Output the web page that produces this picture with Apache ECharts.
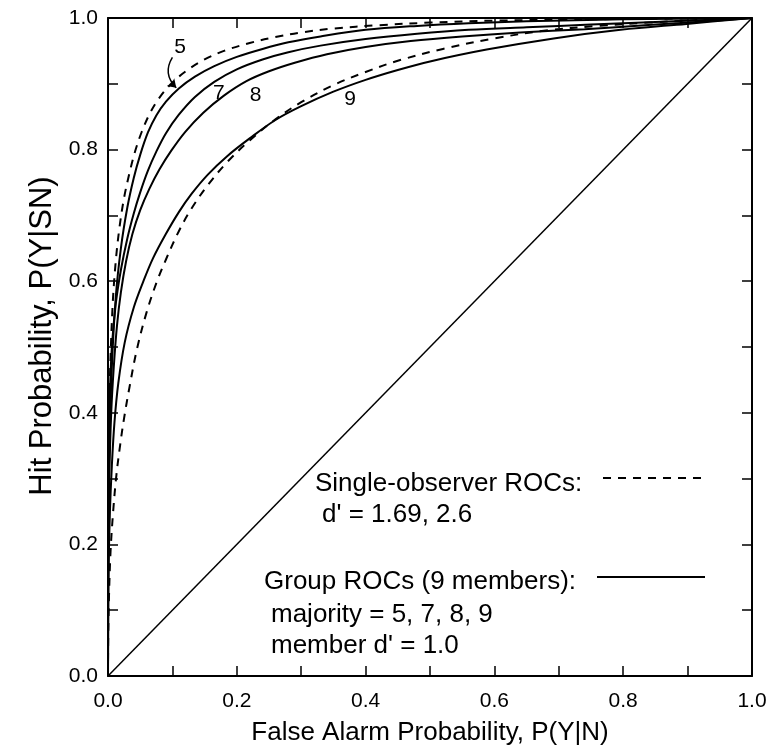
<!DOCTYPE html>
<html>
<head>
<meta charset="utf-8">
<script src="https://cdn.jsdelivr.net/npm/echarts@6/dist/echarts.min.js"></script>
<style>
  html, body { margin: 0; padding: 0; background: #fff; }
  #chart { width: 778px; height: 751px; }
</style>
</head>
<body>
<div id="chart"></div>
<script>
// ROC curves: [false alarm probability, hit probability]

// Single observers, d' = 2.6 and d' = 1.69 (dashed)
const singleObserverD26 = [
  [0, 0], [0.0003, 0.20], [0.001, 0.32], [0.003, 0.45], [0.007, 0.56], [0.012, 0.63],
  [0.018, 0.683], [0.025, 0.727], [0.033, 0.763], [0.042, 0.797], [0.052, 0.826],
  [0.065, 0.855], [0.080, 0.879], [0.100, 0.902], [0.125, 0.922], [0.150, 0.937],
  [0.180, 0.950], [0.220, 0.962], [0.260, 0.971], [0.300, 0.978], [0.350, 0.984],
  [0.420, 0.989], [0.500, 0.993], [0.600, 0.996], [0.750, 0.998], [1, 1]
];
const singleObserverD169 = [
  [0, 0], [0.0003, 0.06], [0.0015, 0.12], [0.004, 0.19], [0.008, 0.25], [0.013, 0.305],
  [0.019, 0.352], [0.025, 0.392], [0.033, 0.437], [0.045, 0.497], [0.060, 0.553],
  [0.075, 0.597], [0.090, 0.633], [0.110, 0.676], [0.130, 0.711], [0.155, 0.746],
  [0.185, 0.781], [0.220, 0.814], [0.260, 0.846], [0.300, 0.872], [0.350, 0.898],
  [0.400, 0.918], [0.450, 0.935], [0.520, 0.953], [0.600, 0.969], [0.680, 0.981],
  [0.760, 0.988], [0.840, 0.993], [0.920, 0.997], [1, 1]
];

// Nine-member groups, member d' = 1.0, majority of 5, 7, 8 and 9 (solid)
const groupMajority5 = [
  [0, 0], [0.0002, 0.14], [0.0008, 0.24], [0.002, 0.34], [0.006, 0.47], [0.012, 0.575],
  [0.020, 0.650], [0.030, 0.712], [0.040, 0.757], [0.050, 0.792], [0.062, 0.826],
  [0.075, 0.852], [0.090, 0.873], [0.110, 0.893], [0.135, 0.911], [0.165, 0.927],
  [0.200, 0.941], [0.240, 0.953], [0.280, 0.963], [0.330, 0.972], [0.400, 0.982],
  [0.480, 0.988], [0.560, 0.992], [0.650, 0.995], [0.800, 0.998], [1, 1]
];
const groupMajority7 = [
  [0, 0], [0.0003, 0.22], [0.001, 0.33], [0.003, 0.43], [0.006, 0.50], [0.012, 0.565],
  [0.020, 0.617], [0.030, 0.665], [0.040, 0.703], [0.050, 0.735], [0.062, 0.768],
  [0.075, 0.797], [0.090, 0.825], [0.110, 0.853], [0.135, 0.880], [0.165, 0.903],
  [0.200, 0.922], [0.240, 0.937], [0.280, 0.948], [0.330, 0.958], [0.400, 0.968],
  [0.480, 0.976], [0.560, 0.982], [0.650, 0.986], [0.750, 0.990], [0.850, 0.994], [1, 1]
];
const groupMajority8 = [
  [0, 0], [0.0005, 0.18], [0.002, 0.30], [0.005, 0.40], [0.009, 0.47], [0.014, 0.533],
  [0.020, 0.583], [0.028, 0.630], [0.038, 0.672], [0.050, 0.708], [0.064, 0.740],
  [0.080, 0.770], [0.098, 0.798], [0.120, 0.827], [0.148, 0.856], [0.180, 0.882],
  [0.215, 0.904], [0.250, 0.919], [0.290, 0.932], [0.340, 0.945], [0.400, 0.956],
  [0.470, 0.965], [0.550, 0.972], [0.640, 0.978], [0.740, 0.983], [0.850, 0.990],
  [0.930, 0.995], [1, 1]
];
const groupMajority9 = [
  [0, 0], [0.0003, 0.10], [0.001, 0.17], [0.003, 0.25], [0.006, 0.32], [0.010, 0.385],
  [0.016, 0.445], [0.026, 0.507], [0.040, 0.560], [0.055, 0.600], [0.070, 0.635],
  [0.090, 0.672], [0.110, 0.705], [0.130, 0.733], [0.155, 0.762], [0.185, 0.790],
  [0.220, 0.817], [0.260, 0.845], [0.300, 0.866], [0.350, 0.888], [0.400, 0.906],
  [0.450, 0.921], [0.500, 0.934], [0.588, 0.952], [0.692, 0.969], [0.796, 0.982],
  [0.898, 0.991], [1, 1]
];

// Chance diagonal
const chanceLine = [[0, 0], [1, 1]];

// Curve tags (majority sizes)
const curveTagText = ['5', '7', '8', '9'];

// Axis tick labels (every other 0.1 tick is labelled)
const tickLabels = ['0.0', '0.2', '0.4', '0.6', '0.8', '1.0'];

const FONT = '"Liberation Sans", Arial, Helvetica, sans-serif';
const INK = '#000';

const chart = echarts.init(document.getElementById('chart'), null, { renderer: 'canvas' });

function tickFormatter(v) {
  const s = v.toFixed(1);
  return tickLabels.indexOf(s) >= 0 ? s : '';
}

function frameAxis(position, withLabels, name) {
  const ax = {
    type: 'value', min: 0, max: 1, interval: 0.1, position: position,
    axisLine: { show: true, onZero: false, lineStyle: { color: INK, width: 2 } },
    axisTick: { show: true, inside: true, length: 10, lineStyle: { color: INK, width: 1.5 } },
    axisLabel: { show: withLabels, formatter: tickFormatter, color: INK, fontSize: 21, fontFamily: FONT },
    splitLine: { show: false }
  };
  if (name) {
    ax.name = name;
    ax.nameLocation = 'middle';
    ax.nameTextStyle = { color: INK, fontSize: 26, fontFamily: FONT };
  }
  return ax;
}

const xBottom = frameAxis('bottom', true, 'False Alarm Probability, P(Y|N)');
xBottom.nameGap = 44;
xBottom.axisLabel.margin = 15;
const yLeft = frameAxis('left', true, 'Hit Probability, P(Y|SN)');
yLeft.nameGap = 50;
yLeft.nameTextStyle.fontSize = 31;
yLeft.nameTextStyle.padding = [0, 0, 0, 22];
yLeft.axisLabel.margin = 10;

function curve(data, dashed) {
  return {
    type: 'line', data: data, xAxisIndex: 0, yAxisIndex: 0,
    showSymbol: false, symbol: 'none', smooth: 0.35, clip: true,
    lineStyle: { color: INK, width: 2, type: dashed ? [8, 7] : 'solid' },
    silent: true
  };
}

// tag anchors and the leader for tag "5", in axis units
const tagAnchors = [[0.112, 0.955], [0.172, 0.886], [0.229, 0.882], [0.376, 0.877]];
const leaderFiveEnds = [[0.100, 0.940], [0.106, 0.894]];

const option = {
  animation: false,
  backgroundColor: '#fff',
  grid: { left: 108, top: 18, width: 644, height: 661, containLabel: false },
  xAxis: [xBottom, frameAxis('top', false)],
  yAxis: [yLeft, frameAxis('right', false)],
  series: [
    {
      type: 'line', data: chanceLine, showSymbol: false, symbol: 'none',
      lineStyle: { color: INK, width: 1.5 }, silent: true
    },
    curve(singleObserverD26, true),
    curve(singleObserverD169, true),
    curve(groupMajority5, false),
    curve(groupMajority7, false),
    curve(groupMajority8, false),
    curve(groupMajority9, false),
    {
      type: 'lines', coordinateSystem: 'cartesian2d', silent: true,
      symbol: ['none', 'arrow'], symbolSize: 8,
      lineStyle: { color: INK, width: 1.5, curveness: -0.4, opacity: 1 },
      data: [{ coords: leaderFiveEnds }]
    }
  ],
  graphic: [
    { type: 'text', x: 315, y: 484, style: { text: 'Single-observer ROCs:', fill: INK, fontSize: 26, fontFamily: FONT, verticalAlign: 'middle' } },
    { type: 'line', shape: { x1: 603, y1: 478, x2: 708, y2: 478 }, style: { stroke: INK, lineWidth: 2, lineDash: [8, 7] } },
    { type: 'text', x: 322, y: 515, style: { text: "d' = 1.69, 2.6", fill: INK, fontSize: 26, fontFamily: FONT, verticalAlign: 'middle' } },
    { type: 'text', x: 264, y: 582, style: { text: 'Group ROCs (9 members):', fill: INK, fontSize: 26, fontFamily: FONT, verticalAlign: 'middle' } },
    { type: 'line', shape: { x1: 597, y1: 577, x2: 705, y2: 577 }, style: { stroke: INK, lineWidth: 2 } },
    { type: 'text', x: 271, y: 615, style: { text: 'majority = 5, 7, 8, 9', fill: INK, fontSize: 26, fontFamily: FONT, verticalAlign: 'middle' } },
    { type: 'text', x: 271, y: 646, style: { text: "member d' = 1.0", fill: INK, fontSize: 26, fontFamily: FONT, verticalAlign: 'middle' } }
  ]
};

chart.setOption(option);

// Curve tags placed through the axes' own scale
const tagGraphics = curveTagText.map((t, i) => {
  const p = chart.convertToPixel({ gridIndex: 0 }, tagAnchors[i]);
  return {
    type: 'text', x: p[0], y: p[1],
    style: { text: t, fill: INK, fontSize: 21, fontFamily: FONT, align: 'center', verticalAlign: 'middle' }
  };
});
chart.setOption({ graphic: option.graphic.concat(tagGraphics) });
</script>
</body>
</html>
